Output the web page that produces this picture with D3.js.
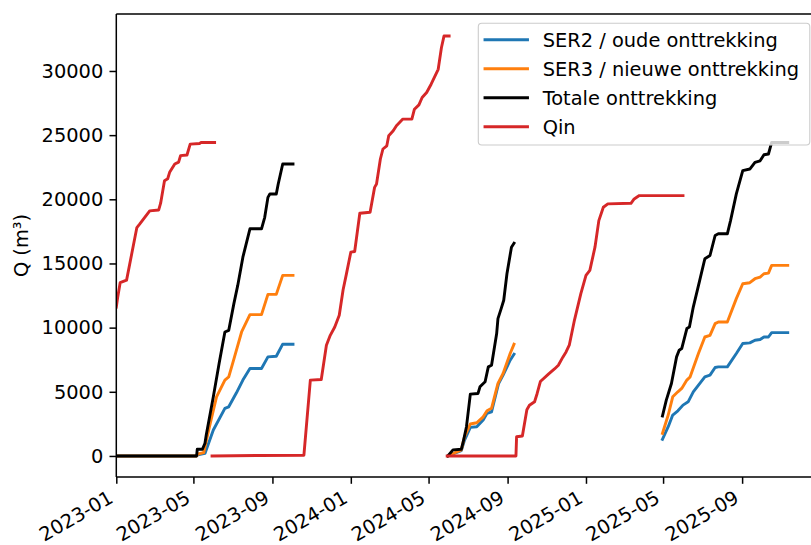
<!DOCTYPE html>
<html><head><meta charset="utf-8">
<script src="https://cdn.jsdelivr.net/npm/d3@7"></script>
<style>body{margin:0;background:#fff}text{font-family:"DejaVu Sans",sans-serif;fill:#000}</style>
</head><body><svg id="c" width="811" height="545"></svg>
<script>
// ---- data (date, cumulative Q in m3) ----
const seriesNames = ["SER2 / oude onttrekking","SER3 / nieuwe onttrekking","Totale onttrekking","Qin"];
const seriesColors = ["#1f77b4","#ff7f0e","#000000","#d62728"];
const xTickLabels = ["2023-01","2023-05","2023-09","2024-01","2024-05","2024-09","2025-01","2025-05","2025-09"];
const yTickValues = [0,5000,10000,15000,20000,25000,30000];

const ser2_2023 = [["2023-01-01",0],["2023-05-06",0],["2023-05-08",80],["2023-05-19",200],["2023-06-01",2020],["2023-06-19",3710],["2023-06-25",3830],["2023-07-07",4920],["2023-07-17",5910],["2023-07-28",6820],["2023-08-15",6820],["2023-08-25",7720],["2023-09-07",7770],["2023-09-17",8710],["2023-10-03",8710]];
const ser3_2023 = [["2023-01-01",0],["2023-05-06",0],["2023-05-08",150],["2023-05-17",260],["2023-05-26",2280],["2023-06-06",4610],["2023-06-19",5910],["2023-06-25",6160],["2023-07-04",7720],["2023-07-15",9660],["2023-07-28",11010],["2023-08-15",11010],["2023-08-25",12590],["2023-09-07",12590],["2023-09-17",14070],["2023-10-03",14070]];
const tot_2023 = [["2023-01-01",0],["2023-05-06",0],["2023-05-07",520],["2023-05-15",520],["2023-05-19",990],["2023-05-21",1630],["2023-06-01",4610],["2023-06-10",7200],["2023-06-19",9660],["2023-06-25",9790],["2023-07-03",11870],["2023-07-09",13290],["2023-07-17",15490],["2023-07-28",17700],["2023-08-15",17700],["2023-08-20",18600],["2023-08-25",20150],["2023-08-28",20410],["2023-09-07",20410],["2023-09-10",21190],["2023-09-17",22750],["2023-10-03",22750]];
const qin_2023a = [["2023-01-01",11600],["2023-01-03",12300],["2023-01-07",13500],["2023-01-17",13700],["2023-02-02",17800],["2023-02-06",18050],["2023-02-22",19100],["2023-03-08",19170],["2023-03-11",19700],["2023-03-17",21450],["2023-03-22",21600],["2023-03-25",22100],["2023-04-02",22750],["2023-04-08",22900],["2023-04-11",23400],["2023-04-21",23450],["2023-04-26",24300],["2023-05-11",24350],["2023-05-13",24430],["2023-06-03",24430]];
const qin_2023b = [["2023-05-30",0],["2023-08-12",40],["2023-10-20",60],["2023-10-30",5910],["2023-11-16",5960],["2023-11-24",8630],["2023-11-30",9400],["2023-12-07",10050],["2023-12-14",10960],["2023-12-20",12950],["2023-12-25",14150],["2024-01-01",15880],["2024-01-07",15930],["2024-01-15",18910],["2024-01-31",18990],["2024-02-07",20930],["2024-02-10",21190],["2024-02-16",23140],["2024-02-20",23920],["2024-02-26",24170],["2024-02-29",24950],["2024-03-07",25340],["2024-03-12",25730],["2024-03-22",26250],["2024-04-05",26250],["2024-04-09",27020],["2024-04-16",27360],["2024-04-21",27930],["2024-04-28",28320],["2024-05-05",28970],["2024-05-16",30130],["2024-05-21",31810],["2024-05-25",32720],["2024-06-02",32720]];

const ser2_2024 = [["2024-05-31",0],["2024-06-21",410],["2024-06-26",1240],["2024-07-05",2230],["2024-07-15",2280],["2024-07-25",2800],["2024-07-31",3320],["2024-08-07",3440],["2024-08-18",5650],["2024-08-25",6300],["2024-09-05",7460],["2024-09-11",7930]];
const ser3_2024 = [["2024-05-31",0],["2024-06-21",470],["2024-06-26",1500],["2024-07-05",2490],["2024-07-15",2590],["2024-07-25",3050],["2024-07-31",3520],["2024-08-07",3710],["2024-08-17",5650],["2024-08-25",6430],["2024-09-05",7980],["2024-09-11",8710]];
const tot_2024 = [["2024-05-31",0],["2024-06-08",470],["2024-06-21",520],["2024-06-24",1110],["2024-06-29",2280],["2024-07-05",4820],["2024-07-17",4870],["2024-07-20",5390],["2024-07-28",5780],["2024-08-02",6940],["2024-08-07",7070],["2024-08-15",9540],["2024-08-17",10700],["2024-08-22",11480],["2024-08-26",12130],["2024-08-31",14200],["2024-09-07",16270],["2024-09-11",16580]];
const qin_2024 = [["2024-05-30",0],["2024-09-14",0],["2024-09-15",1500],["2024-09-24",1550],["2024-10-01",3600],["2024-10-05",3950],["2024-10-13",4220],["2024-10-17",4870],["2024-10-22",5800],["2024-11-04",6400],["2024-11-13",6780],["2024-11-19",7070],["2024-11-26",7700],["2024-12-01",8110],["2024-12-06",8630],["2024-12-14",10570],["2024-12-24",12650],["2025-01-01",14070],["2025-01-07",14460],["2025-01-15",16270],["2025-01-21",18340],["2025-01-28",19380],["2025-02-04",19640],["2025-03-12",19690],["2025-03-17",20030],["2025-03-25",20290],["2025-06-01",20290]];

const ser2_2025 = [["2025-04-30",1300],["2025-05-09",2280],["2025-05-16",3190],["2025-05-24",3520],["2025-06-01",3960],["2025-06-09",4220],["2025-06-17",5000],["2025-07-05",6160],["2025-07-13",6300],["2025-07-21",6890],["2025-07-26",6940],["2025-08-09",6940],["2025-08-23",7980],["2025-09-02",8760],["2025-09-13",8810],["2025-09-21",9020],["2025-09-29",9070],["2025-10-05",9270],["2025-10-12",9270],["2025-10-17",9610],["2025-11-11",9610]];
const ser3_2025 = [["2025-04-30",1760],["2025-05-09",3190],["2025-05-16",4610],["2025-05-24",5000],["2025-05-30",5260],["2025-06-07",5910],["2025-06-12",6160],["2025-06-25",7980],["2025-07-05",9270],["2025-07-13",9400],["2025-07-21",10310],["2025-07-26",10440],["2025-08-09",10440],["2025-08-23",12260],["2025-09-02",13420],["2025-09-13",13500],["2025-09-21",13810],["2025-09-29",13940],["2025-10-05",14200],["2025-10-12",14250],["2025-10-17",14850],["2025-11-11",14850]];
const tot_2025 = [["2025-04-30",3110],["2025-05-06",4350],["2025-05-14",5650],["2025-05-22",7720],["2025-05-26",8240],["2025-05-30",8370],["2025-06-07",9930],["2025-06-11",10050],["2025-06-17",11600],["2025-06-27",13680],["2025-07-05",15370],["2025-07-13",15620],["2025-07-21",17180],["2025-07-26",17310],["2025-08-09",17310],["2025-08-14",18340],["2025-08-23",20420],["2025-09-02",22230],["2025-09-13",22360],["2025-09-21",22880],["2025-09-29",23000],["2025-10-05",23470],["2025-10-12",23530],["2025-10-17",24430],["2025-11-11",24430]];

// draw order: per period SER2, SER3, Totale, Qin
const segments = [
  [ser2_2023,0],[ser3_2023,1],[tot_2023,2],[qin_2023a,3],[qin_2023b,3],
  [ser2_2024,0],[ser3_2024,1],[tot_2024,2],[qin_2024,3],
  [ser2_2025,0],[ser3_2025,1],[tot_2025,2]
];

// ---- layout ----
const L = 116.3, R = 820.5, T = 14, B = 477;
const svg = d3.select("#c");
const parse = d3.utcParse("%Y-%m-%d");
const x = d3.scaleUtc().domain([parse("2023-01-01"), parse("2026-01-01")]).range([L, R]);
const y = d3.scaleLinear().domain([-1640, 34440]).range([B, T]);

svg.append("defs").append("clipPath").attr("id","clip")
  .append("rect").attr("x",L).attr("y",T).attr("width",R-L).attr("height",B-T);

const line = d3.line().x(d => x(parse(d[0]))).y(d => y(d[1]));
const g = svg.append("g").attr("clip-path","url(#clip)");
segments.forEach(([data, k]) => {
  g.append("path").attr("d", line(data)).attr("fill","none")
    .attr("stroke", seriesColors[k]).attr("stroke-width", 2.9)
    .attr("stroke-linejoin","round").attr("stroke-linecap","square");
});

// ---- axes ----
const fs = 19.4;
const ax = svg.append("g");
ax.append("line").attr("x1",L).attr("x2",L).attr("y1",T).attr("y2",B).attr("stroke","#000").attr("stroke-width",1.5);
ax.append("line").attr("x1",L).attr("x2",R).attr("y1",B).attr("y2",B).attr("stroke","#000").attr("stroke-width",1.5);
ax.append("line").attr("x1",L).attr("x2",R).attr("y1",T).attr("y2",T).attr("stroke","#000").attr("stroke-width",1.5);
ax.append("line").attr("x1",R).attr("x2",R).attr("y1",T).attr("y2",B).attr("stroke","#000").attr("stroke-width",1.5);

// y ticks
const yAxis = d3.axisLeft(y).tickValues(yTickValues).tickSize(6.8).tickPadding(6.2).tickFormat(d3.format("d"));
const gy = svg.append("g").attr("transform",`translate(${L},0)`).call(yAxis);
gy.select(".domain").remove();
gy.selectAll(".tick line").attr("stroke","#000").attr("stroke-width",1.5);
gy.selectAll(".tick text").attr("font-size",fs).attr("font-family","DejaVu Sans").attr("fill","#000");

// x ticks
const xTickDates = xTickLabels.map(s => parse(s + "-01"));
const xAxis = d3.axisBottom(x).tickValues(xTickDates).tickSize(6.8).tickFormat((d,i) => xTickLabels[i]);
const gx = svg.append("g").attr("transform",`translate(0,${B})`).call(xAxis);
gx.select(".domain").remove();
gx.selectAll(".tick line").attr("stroke","#000").attr("stroke-width",1.5);
gx.selectAll(".tick text")
  .attr("font-size",fs).attr("font-family","DejaVu Sans").attr("fill","#000")
  .attr("text-anchor","end").attr("dy",null).attr("y",null)
  .attr("transform","translate(-2.3,24.5) rotate(-30)");

// y label
svg.append("text").attr("transform",`translate(27.5,${(T+B)/2}) rotate(-90)`)
  .attr("text-anchor","middle").attr("font-size",fs).text("Q (m³)");

// ---- legend ----
const lg = svg.append("g");
lg.append("rect").attr("x",478.3).attr("y",23.3).attr("width",331.5).attr("height",121.7)
  .attr("rx",3.5).attr("fill","#fff").attr("fill-opacity",0.8).attr("stroke","#cccccc").attr("stroke-width",1.1);
seriesNames.forEach((name,i) => {
  const cy = 39.8 + i*29;
  lg.append("line").attr("x1",485).attr("x2",527.5).attr("y1",cy).attr("y2",cy)
    .attr("stroke",seriesColors[i]).attr("stroke-width",2.9).attr("stroke-linecap","square");
  lg.append("text").attr("x",542.7).attr("y",cy+7.1).attr("font-size",fs).text(name);
});
</script></body></html>
